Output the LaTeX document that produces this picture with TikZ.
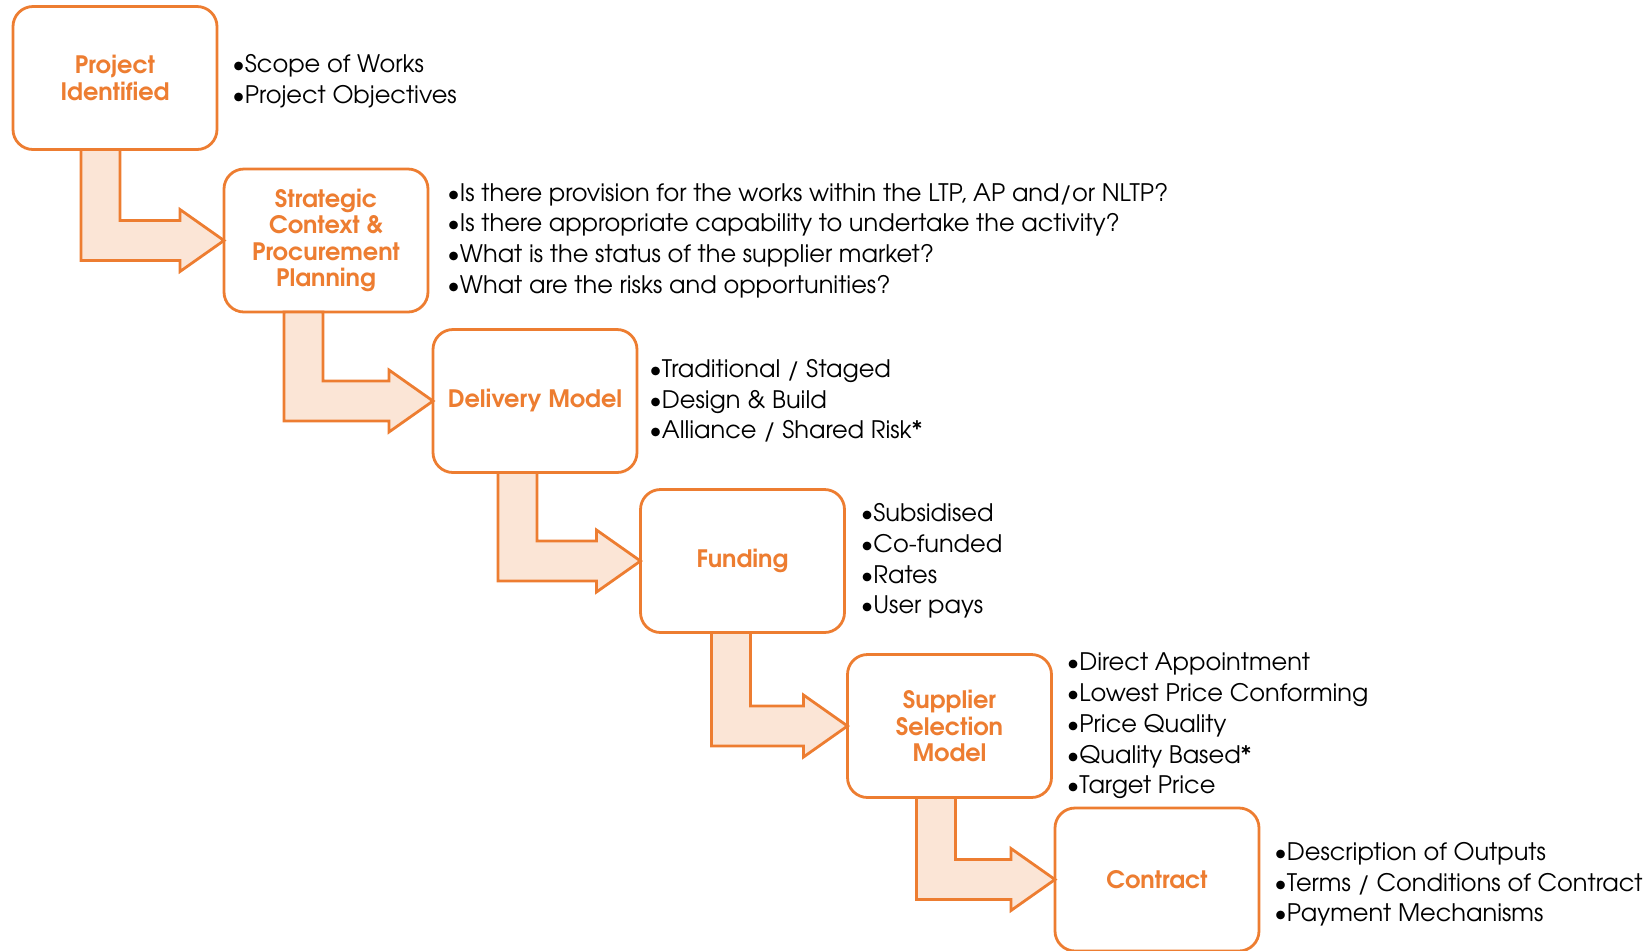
\documentclass[tikz,border=0pt]{standalone}
\usepackage{fontspec}
\setmainfont{TeX Gyre Adventor}
\usetikzlibrary{positioning,calc}
\definecolor{arancio}{HTML}{ED7D31}
\definecolor{pesca}{HTML}{FBE5D6}
\tikzset{
  fase/.style={draw=arancio, line width=1.4pt, rounded corners=10pt, fill=white,
    minimum width=102pt, minimum height=71.5pt, inner sep=2pt, outer sep=0pt,
    align=center, text=arancio, font=\bfseries\fontsize{12}{13.3}\selectfont},
  voci/.style={align=left, inner sep=0pt, font=\fontsize{12.05}{15.35}\selectfont},
  frecciapiena/.style={draw=arancio, fill=pesca, line width=1.4pt, line join=miter}
}
%freccia piegata da un riquadro al successivo (#1 = spostamento del gambo)
\newcommand{\freccia}[3][0]{%
  \draw[frecciapiena] ($(#3.west)+(-44,20)$) -| ($(#2.south)+(-37+#1,0)$) --++ (39,0)
    |- ($(#3.west)+(-44,-20)$) --++ (0,-11) -- (#3.west) -- ($(#3.west)+(-44,31)$) -- cycle;}
\begin{document}
\begin{tikzpicture}[x=0.5pt,y=-0.5pt]
        \useasboundingbox (0,0) rectangle (1650,950);
        %riquadri
        \node[fase] (b1) at (115,78) {Project\\Identified};
        \node[fase] (b2) at (326,240.5) {Strategic\\Context \&\\Procurement\\Planning};
        \node[fase] (b3) at (535,401) {Delivery Model};
        \node[fase] (b4) at (742.5,561) {Funding};
        \node[fase] (b5) at (949.5,726) {Supplier\\Selection\\Model};
        \node[fase] (b6) at (1157,879.5) {Contract};
        %frecce
        \freccia[3]{b1}{b2}
        \freccia[-5]{b2}{b3}
        \freccia{b3}{b4}
        \freccia[6]{b4}{b5}
        \freccia[4]{b5}{b6}
        %elenchi
        \node[voci, right=7.5pt of b1, yshift=-1.5pt] (l1) {•Scope of Works\\•Project Objectives};
        \node[voci, right=9.5pt of b2] (l2) {•Is there provision for the works within the LTP, AP and/or NLTP?\\•Is there appropriate capability to undertake the activity?\\•What is the status of the supplier market?\\•What are the risks and opportunities?};
        \node[voci, right=6pt of b3] (l3) {•Traditional / Staged\\•Design \& Build\\•Alliance / Shared Risk*};
        \node[voci, right=8pt of b4] (l4) {•Subsidised\\•Co-funded\\•Rates\\•User pays};
        \node[voci, right=7.5pt of b5] (l5) {•Direct Appointment\\•Lowest Price Conforming\\•Price Quality\\•Quality Based*\\•Target Price};
        \node[voci, right=7.5pt of b6, yshift=-2.5pt] (l6) {•Description of Outputs\\•Terms / Conditions of Contract\\•Payment Mechanisms};
\end{tikzpicture}
\end{document}
